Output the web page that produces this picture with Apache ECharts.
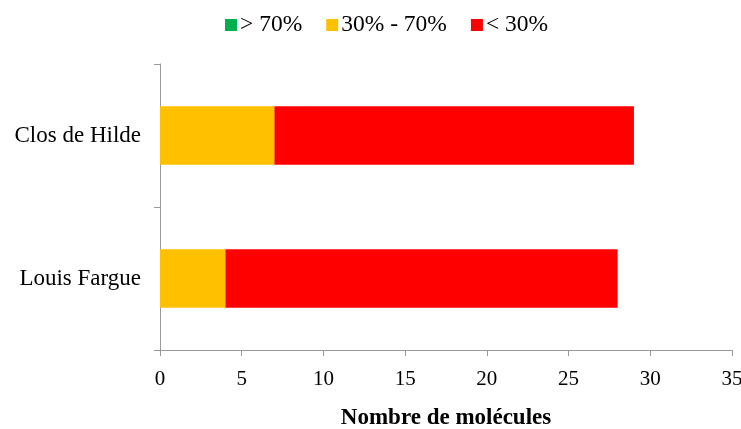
<!DOCTYPE html>
<html>
<head>
<meta charset="utf-8">
<script src="https://cdn.jsdelivr.net/npm/echarts@6/dist/echarts.min.js"></script>
<style>html,body{margin:0;padding:0;background:#fff;}#c{width:741px;height:429px;}</style>
</head>
<body>
<div id="c"></div>
<script>
const categories = ['Louis Fargue', 'Clos de Hilde'];
const seriesNames = ['> 70%', '30% - 70%', '< 30%'];
const above70 = [0, 0];
const between30and70 = [4, 7];
const below30 = [24, 22];
const xTicks = [0, 5, 10, 15, 20, 25, 30, 35];

const font = '"Liberation Serif", "Times New Roman", serif';
const chart = echarts.init(document.getElementById('c'), null, {renderer: 'canvas'});
const colors = ['#00B050', '#FFC000', '#FF0000'];
const values = [above70, between30and70, below30];

chart.setOption({
  animation: false,
  backgroundColor: '#fff',
  legend: {
    left: 220, top: 8,
    itemWidth: 12, itemHeight: 12, itemGap: 24,
    icon: 'rect',
    textStyle: {fontFamily: font, fontSize: 23.5, color: '#000', padding: [0,0,0,-2]},
    data: seriesNames
  },
  grid: {left: 160, right: 9, top: 64, bottom: 79, containLabel: false, outerBoundsMode: 'none'},
  xAxis: {
    type: 'value', min: xTicks[0], max: xTicks[xTicks.length-1], interval: 5,
    name: 'Nombre de molécules', nameLocation: 'middle', nameGap: 57,
    nameTextStyle: {fontFamily: font, fontSize: 23, fontWeight: 'bold', color: '#000'},
    axisLine: {show: true, lineStyle: {color: '#999', width: 1}},
    axisTick: {show: true, length: 6, lineStyle: {color: '#999'}},
    axisLabel: {fontFamily: font, fontSize: 21, color: '#000', margin: 19},
    splitLine: {show: false}
  },
  yAxis: {
    type: 'category', data: categories,
    axisLine: {show: true, lineStyle: {color: '#999', width: 1}},
    axisTick: {show: true, length: 6, lineStyle: {color: '#999'}},
    axisLabel: {fontFamily: font, fontSize: 23, color: '#000', margin: 19}
  },
  series: seriesNames.map((n, i) => ({
    name: n, type: 'bar', stack: 'total', barWidth: '41%',
    itemStyle: {color: colors[i]},
    data: values[i]
  }))
});
</script>
</body>
</html>
